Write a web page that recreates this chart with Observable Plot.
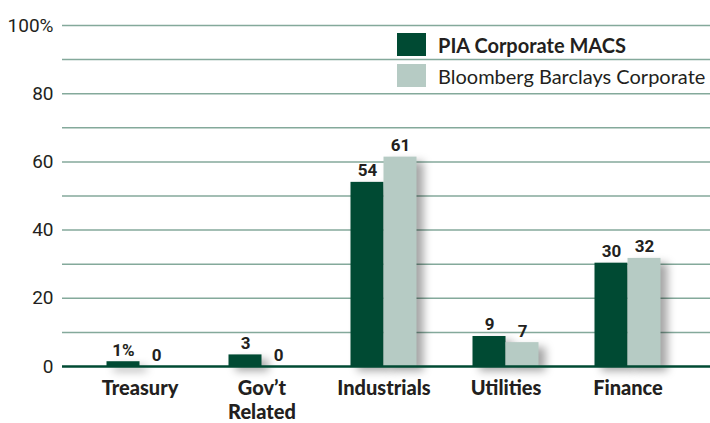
<!DOCTYPE html>
<html><head><meta charset="utf-8">
<script src="https://cdn.jsdelivr.net/npm/d3@7"></script>
<script src="https://cdn.jsdelivr.net/npm/@observablehq/plot@0.6"></script>
<style>
body{margin:0;background:#fff}
#wrap{position:relative;width:710px;height:423px}
.legend{position:absolute;left:397px;top:33px;font-family:Lato,"Open Sans",sans-serif;font-size:20px;color:#231f20}
.legend .row{display:flex;align-items:center;height:23px;margin-bottom:8px;white-space:nowrap}
.legend .sw{width:29px;height:23px;margin-right:12px;flex:none}
g[aria-label="bar"]{filter:drop-shadow(7px 5px 4px rgba(0,0,0,0.35))}
</style></head>
<body><div id="wrap"></div>
<script>
const categories = ["Treasury", "Gov’t\nRelated", "Industrials", "Utilities", "Finance"];
const seriesNames = ["PIA Corporate MACS", "Bloomberg Barclays Corporate"];
const piaValues = [1.4, 3.4, 54, 8.8, 30.3];
const bbValues = [0, 0, 61.4, 7, 31.7];
const yTicks = [0, 20, 40, 60, 80, 100];
const gridTicks = [10, 20, 30, 40, 50, 60, 70, 80, 90, 100];
const colors = ["#004a33", "#b6cbc4"];

const rows = categories.map((c, i) => ({category: c, pia: piaValues[i], bb: bbValues[i], i}));
const numFont = "Roboto,'Liberation Sans',sans-serif";
const labelFmt = (v, first) => Math.round(v) + (first ? "%" : "");

const chart = Plot.plot({
  width: 710, height: 423,
  marginLeft: 62, marginRight: 0, marginTop: 25, marginBottom: 57,
  x: {domain: categories, paddingInner: 0.731, paddingOuter: 0.505, align: 0.48},
  y: {domain: [0, 100]},
  style: {fontFamily: "Lato,'Open Sans',sans-serif", color: "#231f20", background: "#fff"},
  marks: [
    Plot.ruleY(gridTicks, {stroke: "#84a99b", strokeWidth: 1.5}),
    Plot.barY(rows, {x: "category", y: "pia", fill: colors[0], dx: -16.5}),
    Plot.barY(rows, {x: "category", y: "bb", fill: colors[1], dx: 16.5}),
    Plot.ruleY([0], {stroke: colors[0], strokeWidth: 2.5}),
    Plot.text(rows, {x: "category", y: "pia", text: d => labelFmt(d.pia, d.i === 0), dx: -16.5, dy: -6, lineAnchor: "bottom", fontSize: 17, fontWeight: "bold", fontFamily: numFont, fill: "#231f20"}),
    Plot.text(rows, {x: "category", y: "bb", text: d => labelFmt(d.bb, false), dx: 16.5, dy: -6, lineAnchor: "bottom", fontSize: 17, fontWeight: "bold", fontFamily: numFont, fill: "#231f20"}),
    Plot.axisY(yTicks, {tickSize: 0, tickPadding: 9, fontSize: 19, fontFamily: numFont, tickFormat: d => d === 100 ? "100%" : d, label: null}),
    Plot.axisX({tickSize: 0, tickPadding: 12, fontSize: 20, fontWeight: 900, lineHeight: 1.17, label: null})
  ]
});
const wrap = document.getElementById("wrap");
wrap.appendChild(chart);
const legend = document.createElement("div");
legend.className = "legend";
seriesNames.forEach((name, i) => {
  const row = document.createElement("div");
  row.className = "row";
  const sw = document.createElement("div");
  sw.className = "sw";
  sw.style.background = colors[i];
  const t = document.createElement("span");
  t.textContent = name;
  t.style.fontWeight = i === 0 ? "bold" : "normal";
  row.appendChild(sw); row.appendChild(t);
  legend.appendChild(row);
});
wrap.appendChild(legend);
</script></body></html>
